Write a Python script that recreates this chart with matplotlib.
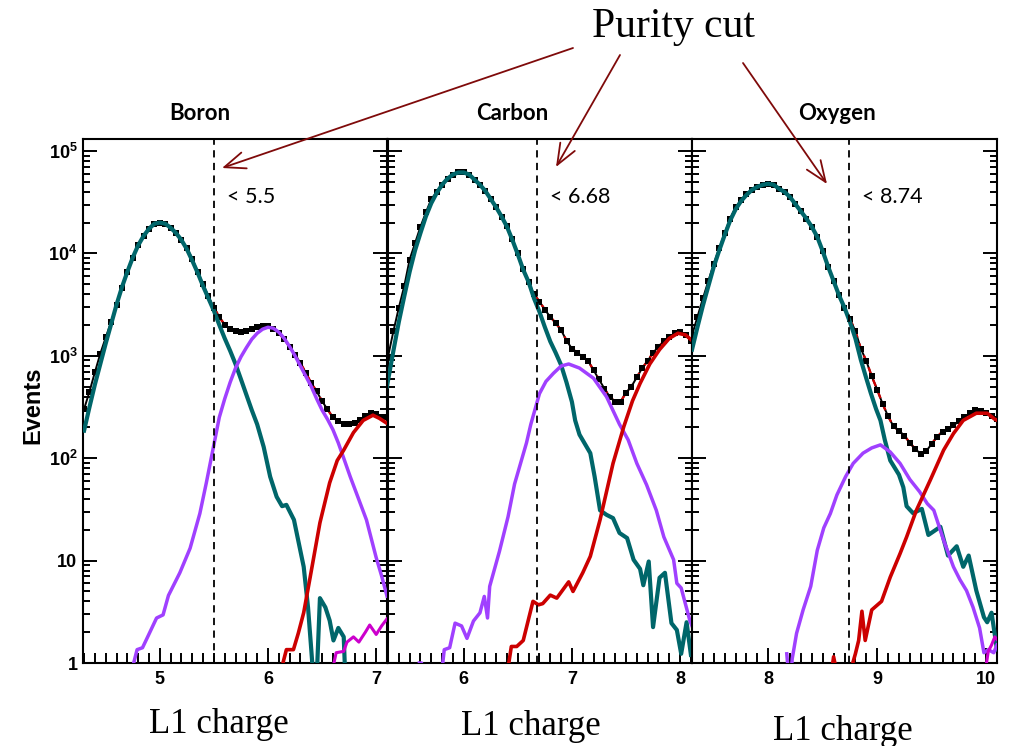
import numpy as np
import matplotlib
matplotlib.use("Agg")
import matplotlib.pyplot as plt
from matplotlib.patches import FancyArrowPatch
from matplotlib.ticker import MultipleLocator, LogLocator, FixedLocator, NullFormatter

# ── Data (events per L1-charge bin) ──────────────────────────────────────────

# Boron
boron_data = [302, 447, 692, 1050, 1510, 2140, 3160, 4570, 6610, 9120,
              12000, 14800, 17400, 19500, 20000, 19500, 17800, 15800, 13500, 11200,
              8900, 6600, 5000, 3800, 2950, 2400, 2000, 1820, 1740, 1700,
              1740, 1820, 1900, 1950, 1950, 1820, 1660, 1450, 1230, 1020,
              850, 680, 540, 450, 360, 300, 250, 230, 215, 215,
              220, 235, 257, 275, 270, 250, 250]
boron_bins = np.linspace(4.30, 7.10, len(boron_data))

boron_teal_x = [4.30, 4.35, 4.40, 4.45, 4.50, 4.55, 4.60, 4.65, 4.70, 4.75,
                4.80, 4.85, 4.90, 4.95, 5.00, 5.05, 5.10, 5.15, 5.20, 5.25,
                5.30, 5.35, 5.40, 5.45, 5.50, 5.55, 5.60, 5.65, 5.70, 5.75,
                5.80, 5.85, 5.90, 5.96, 6.02, 6.08, 6.13, 6.17, 6.24, 6.33,
                6.37, 6.40, 6.42, 6.45, 6.48, 6.53, 6.57, 6.605, 6.65, 6.70, 6.715]
boron_teal = [186, 316, 525, 832, 1320, 2040, 3160, 4680, 6610, 9120,
              12000, 14800, 17400, 19500, 20000, 19500, 17800, 15800, 13500, 11000,
              8500, 6460, 4790, 3630, 2750, 2000, 1480, 1120, 830, 590,
              417, 295, 214, 129, 66, 42, 34, 35, 25, 8.7,
              3.5, 1.35, 0.7, 0.7, 4.3, 3.5, 2.6, 1.66, 2.2, 1.8, 0.7]

boron_purple_x = [4.735, 4.79, 4.84, 4.89, 4.97, 5.03, 5.08, 5.185, 5.28, 5.37,
                  5.43, 5.49, 5.55, 5.60, 5.65, 5.70, 5.75, 5.80, 5.85, 5.90,
                  5.95, 6.00, 6.05, 6.10, 6.15, 6.20, 6.25, 6.30, 6.35, 6.40,
                  6.45, 6.50, 6.55, 6.60, 6.65, 6.70, 6.76, 6.83, 6.91, 7.00,
                  7.05, 7.10]
boron_purple = [0.8, 1.35, 1.41, 1.82, 2.75, 2.95, 4.57, 7.6, 13.2, 28.8,
                57.5, 120, 251, 380, 550, 759, 977, 1200, 1450, 1660,
                1820, 1900, 1860, 1700, 1480, 1230, 1000, 794, 631, 501,
                380, 295, 240, 190, 141, 100, 66, 42, 25, 10.7,
                7.1, 4.5]

boron_red_x = [6.127, 6.17, 6.235, 6.28, 6.33, 6.39, 6.48, 6.57, 6.64, 6.70,
               6.79, 6.88, 6.97, 7.03, 7.10]
boron_red = [0.9, 1.35, 1.35, 1.95, 3.1, 6.9, 23.4, 57.5, 95, 120,
             178, 234, 263, 245, 219]

boron_magenta_x = [6.605, 6.63, 6.70, 6.73, 6.79, 6.84, 6.90, 6.94, 7.00, 7.05, 7.10]
boron_magenta = [0.95, 1.26, 1.3, 1.6, 1.8, 1.6, 2.0, 2.35, 1.9, 2.3, 2.7]

# Carbon
carbon_data = [977, 1740, 2950, 4790, 8710, 12600, 18200, 25100, 33900, 39800,
               46800, 53700, 58900, 61700, 61700, 58900, 52500, 46800, 40700, 33900,
               28200, 22900, 18600, 13800, 10000, 7080, 5250, 3980, 3390, 2820,
               2400, 2090, 1780, 1410, 1175, 1070, 977, 891, 724, 589,
               479, 398, 355, 355, 437, 501, 617, 759, 891, 1070,
               1230, 1380, 1510, 1660, 1700, 1585, 1410]
carbon_bins = np.linspace(5.30, 8.10, len(carbon_data))

carbon_teal_x = [5.29, 5.35, 5.40, 5.45, 5.50, 5.55, 5.60, 5.65, 5.70, 5.75,
                 5.80, 5.85, 5.90, 5.95, 6.00, 6.05, 6.10, 6.15, 6.20, 6.25,
                 6.30, 6.35, 6.40, 6.45, 6.50, 6.55, 6.60, 6.65, 6.70, 6.75,
                 6.80, 6.85, 6.90, 6.95, 7.00, 7.03, 7.07, 7.17, 7.21, 7.26,
                 7.32, 7.38, 7.44, 7.51, 7.57, 7.63, 7.66, 7.71, 7.75, 7.81,
                 7.86, 7.92, 7.97, 8.01, 8.06, 8.10]
carbon_teal = [501, 1120, 2140, 3800, 6610, 10700, 15800, 22900, 30900, 38900,
               46800, 53700, 58900, 61700, 61700, 58900, 52500, 46800, 40700, 33900,
               28200, 22900, 18200, 13500, 9770, 6920, 5250, 3630, 2690, 1905,
               1380, 1070, 813, 550, 355, 234, 170, 112, 66, 31,
               28, 26, 18.6, 16.6, 10.2, 8.3, 5.75, 9.8, 2.24, 6.8,
               7.6, 2.45, 2.1, 1.23, 2.5, 1.2]

carbon_purple_x = [5.59, 5.61, 5.62, 5.79, 5.82, 5.87, 5.92, 5.98, 6.03, 6.09,
                   6.15, 6.19, 6.22, 6.24, 6.33, 6.41, 6.47, 6.58, 6.62, 6.70,
                   6.76, 6.83, 6.90, 6.97, 7.07, 7.20, 7.32, 7.44, 7.52, 7.60,
                   7.69, 7.78, 7.85, 7.94, 7.97, 8.01, 8.09, 8.11]
carbon_purple = [1.0, 1.0, 0.7, 0.7, 1.35, 1.41, 2.45, 2.3, 1.74, 2.57,
                 3.09, 4.47, 2.75, 5.6, 12.3, 26.9, 56, 141, 214, 427,
                 562, 676, 794, 832, 759, 603, 398, 214, 151, 89,
                 55, 31, 17, 10.2, 6.0, 5.4, 2.6, 2.3]

carbon_red_x = [6.41, 6.44, 6.49, 6.55, 6.64, 6.69, 6.73, 6.80, 6.86, 6.97,
                7.01, 7.10, 7.17, 7.26, 7.38, 7.48, 7.56, 7.63, 7.72, 7.81,
                7.90, 7.98, 8.05, 8.11]
carbon_red = [0.9, 1.45, 1.45, 1.66, 4.0, 3.7, 3.8, 4.6, 4.3, 6.2,
              5.0, 7.6, 11, 25, 89, 204, 363, 537, 832, 1150,
              1480, 1660, 1600, 1410]

# Oxygen
oxygen_data = [1585, 2400, 3630, 5370, 7940, 11200, 15800, 21900, 28200, 33100,
               38000, 41700, 44700, 46800, 47900, 46800, 42700, 39800, 35500, 30200,
               25700, 21900, 18200, 14500, 10500, 7410, 5370, 3890, 2950, 2290,
               1740, 1175, 891, 631, 468, 339, 257, 204, 186, 166,
               141, 123, 110, 117, 138, 162, 182, 191, 209, 229,
               251, 275, 295, 288, 275, 257, 240]
oxygen_bins = np.linspace(7.30, 10.10, len(oxygen_data))

oxygen_teal_x = [7.30, 7.35, 7.40, 7.45, 7.50, 7.55, 7.60, 7.65, 7.70, 7.75,
                 7.80, 7.85, 7.90, 7.95, 8.00, 8.05, 8.10, 8.15, 8.20, 8.25,
                 8.30, 8.35, 8.40, 8.45, 8.50, 8.55, 8.60, 8.65, 8.70, 8.75,
                 8.80, 8.85, 8.90, 8.94, 8.99, 9.03, 9.07, 9.12, 9.20, 9.24,
                 9.27, 9.33, 9.41, 9.47, 9.58, 9.65, 9.73, 9.79, 9.84, 9.91,
                 9.98, 10.01, 10.05, 10.10]
oxygen_teal = [1148, 1905, 3090, 4790, 7410, 10700, 15100, 20900, 26900, 32400,
               37200, 41700, 44700, 46800, 47900, 46800, 42700, 39800, 35500, 30200,
               25700, 21900, 18200, 14500, 10500, 7410, 5370, 3890, 2950, 2140,
               1480, 912, 603, 437, 302, 234, 151, 95, 69, 52,
               34, 29, 32, 17.8, 21.4, 11.2, 13.8, 8.7, 11.2, 5.1,
               2.8, 2.5, 3.1, 1.35]

oxygen_purple_x = [8.17, 8.185, 8.21, 8.22, 8.26, 8.32, 8.39, 8.45, 8.51, 8.57,
                   8.63, 8.71, 8.78, 8.87, 8.95, 9.03, 9.12, 9.21, 9.30, 9.39,
                   9.46, 9.52, 9.61, 9.70, 9.76, 9.82, 9.88, 9.94, 9.98, 10.02,
                   10.07, 10.10]
oxygen_purple = [1.23, 0.8, 0.8, 1.1, 1.95, 3.3, 5.6, 12.6, 20.9, 28.8,
                 43.7, 66, 89, 112, 126, 135, 115, 89, 62, 47,
                 36, 31, 15.8, 8.7, 6.5, 5.1, 3.5, 2.2, 1.26, 1.35,
                 1.26, 1.5]

oxygen_red_x = [8.58, 8.60, 8.63, 8.75, 8.80, 8.83, 8.86, 8.89, 8.95, 9.04,
                9.12, 9.21, 9.27, 9.36, 9.49, 9.61, 9.70, 9.79, 9.91, 10.01,
                10.08, 10.10]
oxygen_red = [0.8, 1.15, 0.8, 0.8, 1.23, 1.66, 3.2, 1.66, 3.3, 4.0,
              6.9, 11.7, 17, 31, 62, 120, 174, 234, 275, 275,
              240, 235]

oxygen_magenta_x = [9.99, 10.02, 10.05, 10.08, 10.10]
oxygen_magenta = [0.8, 1.3, 1.5, 1.8, 1.7]

names = ["Boron", "Carbon", "Oxygen"]
cuts = [5.5, 6.68, 8.74]
cut_labels = ["< 5.5", "< 6.68", "< 8.74"]
x_ranges = [(4.29, 7.10), (5.30, 8.11), (7.30, 10.10)]
x_major = [[5, 6, 7], [6, 7, 8], [8, 9, 10]]
y_ticks = [1, 10, 1e2, 1e3, 1e4, 1e5]
y_ticklabels = ["1", "10", r"$10^{2}$", r"$10^{3}$", r"$10^{4}$", r"$10^{5}$"]

panels = [
    (boron_bins, boron_data, boron_teal_x, boron_teal, boron_purple_x, boron_purple,
     boron_red_x, boron_red, boron_magenta_x, boron_magenta),
    (carbon_bins, carbon_data, carbon_teal_x, carbon_teal, carbon_purple_x, carbon_purple,
     carbon_red_x, carbon_red, None, None),
    (oxygen_bins, oxygen_data, oxygen_teal_x, oxygen_teal, oxygen_purple_x, oxygen_purple,
     oxygen_red_x, oxygen_red, oxygen_magenta_x, oxygen_magenta),
]

# ── Styling ──────────────────────────────────────────────────────────────────

TEAL    = "#00666a"
PURPLE  = "#a040ff"
RED     = "#cc0000"
MAGENTA = "#cc00cc"
ARROW   = "#7f0a0a"

plt.rcParams.update({
    "mathtext.fontset": "custom",
    "mathtext.rm": "Liberation Sans:bold",
    "mathtext.it": "Liberation Sans:bold:italic",
    "mathtext.bf": "Liberation Sans:bold",
    "axes.linewidth": 1.5,
})

W, H = 1017, 746
fig = plt.figure(figsize=(W / 100, H / 100), dpi=100, facecolor="white")

# panel edges in pixels (left, right); shared top / bottom
panel_px = [(83, 387), (388, 692), (692, 997)]
title_cx = [200, 512, 837]
TOP, BOTTOM = 139, 663

for i, (lx, rx) in enumerate(panel_px):
    ax = fig.add_axes([lx / W, 1 - BOTTOM / H, (rx - lx) / W, (BOTTOM - TOP) / H])
    bins, data, tx, ty, px_, py_, rx_, ry_, mx, my = panels[i]

    ax.set_yscale("log")
    ax.set_xlim(*x_ranges[i])
    ax.set_ylim(1, 1.31e5)

    # data histogram: line, dashed total fit beyond the cut, then markers
    ax.plot(bins, data, color="black", lw=1.4, zorder=2)
    sel = bins >= cuts[i] - 0.03
    ax.plot(bins[sel], np.asarray(data)[sel], color=RED, lw=1.7,
            dashes=(3, 2.5), zorder=3)
    ax.plot(bins, data, ls="none", color="black", marker="s", ms=4.6,
            markeredgewidth=0, zorder=4)

    ax.plot(tx, ty, color=TEAL, lw=3.0, zorder=5)
    ax.plot(px_, py_, color=PURPLE, lw=2.5, zorder=5)
    ax.plot(rx_, ry_, color=RED, lw=2.6, zorder=5)
    if mx is not None:
        ax.plot(mx, my, color=MAGENTA, lw=2.2, zorder=5)

    ax.axvline(cuts[i], color="black", lw=1.3, dashes=(4, 3), zorder=6)
    ax.text(cuts[i] + 0.12, 10 ** 4.55, cut_labels[i], fontsize=15.5,
            family="Lato", va="center", ha="left")

    # ticks
    ax.xaxis.set_major_locator(FixedLocator(x_major[i]))
    ax.xaxis.set_minor_locator(MultipleLocator(0.1))
    ax.yaxis.set_major_locator(FixedLocator(y_ticks))
    ax.yaxis.set_minor_locator(LogLocator(base=10, subs=range(2, 10), numticks=20))
    ax.yaxis.set_minor_formatter(NullFormatter())
    ax.tick_params(axis="both", which="both", direction="in", right=True, top=False,
                   width=1.4)
    ax.tick_params(axis="x", which="major", length=11, pad=6)
    ax.tick_params(axis="x", which="minor", length=7)
    ax.tick_params(axis="y", which="major", length=10, pad=4)
    ax.tick_params(axis="y", which="minor", length=5)
    ax.set_xticklabels([str(v) for v in x_major[i]], fontsize=13,
                       fontweight="bold", family="Liberation Sans")
    if i == 0:
        ax.set_yticklabels(y_ticklabels, fontsize=13, fontweight="bold",
                           family="Liberation Sans")
    else:
        ax.tick_params(axis="y", labelleft=False)

    fig.text(title_cx[i] / W, 1 - 113 / H, names[i], ha="center", va="center",
             fontsize=16, fontweight="bold", family="Lato")

# axis labels
label_pos = [(219, 733), (531, 735), (843, 740)]
for cx, by in label_pos:
    fig.text(cx / W, 1 - by / H, "L1 charge", ha="center", va="baseline",
             fontsize=25, family="Liberation Serif")

fig.text(33 / W, 1 - 405 / H, "Events", rotation=90, ha="center", va="center",
         fontsize=17, fontweight="bold", family="Liberation Sans")

# "Purity cut" headline with arrows to each cut
fig.text(673 / W, 1 - 37 / H, "Purity cut", ha="center", va="baseline",
         fontsize=30, family="Liberation Serif")

arrows = [((573, 48), (222, 168)), ((620, 55), (556, 167)), ((743, 63), (827, 184))]
for (x0, y0), (x1, y1) in arrows:
    fig.add_artist(FancyArrowPatch(
        (x0 / W, 1 - y0 / H), (x1 / W, 1 - y1 / H),
        transform=fig.transFigure,
        arrowstyle="->,head_length=0.75,head_width=0.3",
        mutation_scale=20, lw=1.3, color=ARROW,
        shrinkA=0, shrinkB=0,
    ))

plt.savefig("out.png", dpi=100, facecolor="white")
